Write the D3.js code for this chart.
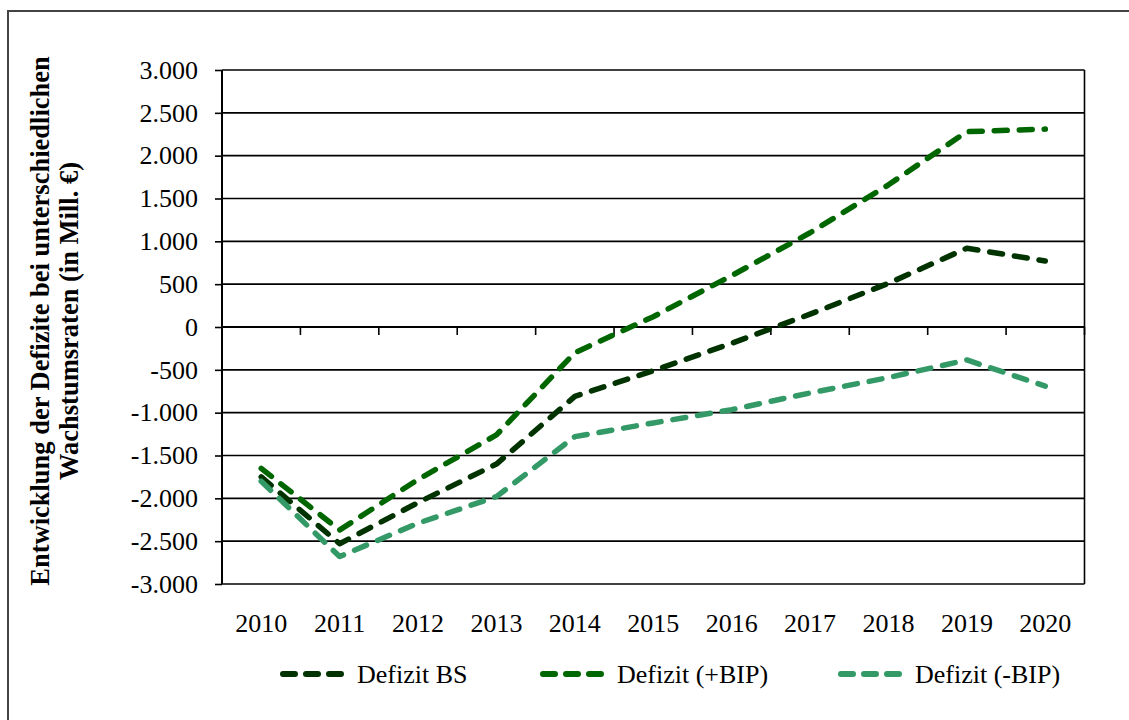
<!DOCTYPE html>
<html>
<head>
<meta charset="utf-8">
<script src="https://cdn.jsdelivr.net/npm/d3@7"></script>
<style>
  body { margin: 0; background: #fff; }
  text { font-family: "Liberation Serif", "Times New Roman", serif; }
</style>
</head>
<body>
<div id="my_dataviz"></div>
<script>
// data
const years = ["2010", "2011", "2012", "2013", "2014", "2015", "2016", "2017", "2018", "2019", "2020"];
const defizitBS = [-1750, -2530, -2050, -1600, -810, -510, -190, 150, 510, 920, 770];
const defizitPlusBIP = [-1650, -2370, -1780, -1260, -300, 120, 600, 1100, 1660, 2280, 2310];
const defizitMinusBIP = [-1800, -2680, -2290, -1980, -1280, -1120, -965, -770, -590, -385, -690];
const seriesNames = ["Defizit BS", "Defizit (+BIP)", "Defizit (-BIP)"];
const yTicks = [-3000, -2500, -2000, -1500, -1000, -500, 0, 500, 1000, 1500, 2000, 2500, 3000];
const yTitle = ["Entwicklung der Defizite bei unterschiedlichen", "Wachstumsraten (in Mill. €)"];

const colors = ["#003300", "#006600", "#339966"];
const series = [defizitBS, defizitPlusBIP, defizitMinusBIP];

// plot area
const W = 1129, H = 720;
const plotL = 222, plotR = 1084.5, plotT = 70, plotB = 584;

const de = d3.formatLocale({ decimal: ",", thousands: ".", grouping: [3], currency: ["", " €"], minus: "-" });
const fmt = de.format(",");

const svg = d3.select("#my_dataviz")
    .append("svg")
    .attr("width", W)
    .attr("height", H);

// outer frame (runs off the right and bottom edge)
svg.append("rect")
    .attr("x", 8).attr("y", 11)
    .attr("width", 1200).attr("height", 800)
    .attr("fill", "none")
    .attr("stroke", "#444")
    .attr("stroke-width", 2);

const x = d3.scaleBand()
    .domain(years)
    .range([plotL, plotR]);

const y = d3.scaleLinear()
    .domain([-3000, 3000])
    .range([plotB, plotT]);

// gridlines
svg.append("g")
    .selectAll("line")
    .data(yTicks)
    .join("line")
    .attr("x1", plotL).attr("x2", plotR)
    .attr("y1", d => y(d)).attr("y2", d => y(d))
    .attr("stroke", "#000")
    .attr("stroke-width", 1.6);

// right border of plot area
svg.append("line")
    .attr("x1", plotR).attr("x2", plotR)
    .attr("y1", plotT).attr("y2", plotB)
    .attr("stroke", "#000").attr("stroke-width", 1.6);

// y axis
const yAxis = svg.append("g")
    .attr("transform", `translate(${plotL},0)`)
    .call(d3.axisLeft(y).tickValues(yTicks).tickFormat(fmt).tickSize(7).tickPadding(17));
yAxis.select(".domain").attr("stroke-width", 2).attr("d", `M0,${plotT}V${plotB}`);
yAxis.selectAll(".tick line").attr("stroke-width", 1.6);
yAxis.selectAll("text")
    .attr("font-size", 26)
    .attr("fill", "#000");

// x axis line through zero, ticks at category boundaries
const bounds = years.map(d => x(d)).concat([x.range()[1]]);
const xLine = svg.append("g");
xLine.append("line")
    .attr("x1", plotL).attr("x2", plotR)
    .attr("y1", y(0)).attr("y2", y(0))
    .attr("stroke", "#000").attr("stroke-width", 2.2);
xLine.selectAll("line.tk")
    .data(bounds)
    .join("line")
    .attr("class", "tk")
    .attr("x1", d => d).attr("x2", d => d)
    .attr("y1", y(0)).attr("y2", y(0) + 8)
    .attr("stroke", "#000").attr("stroke-width", 1.6);

// category labels at the bottom
const xAxis = svg.append("g")
    .attr("transform", `translate(0,${plotB})`)
    .call(d3.axisBottom(x).tickSize(0).tickPadding(30));
xAxis.select(".domain").remove();
xAxis.selectAll("text")
    .attr("font-size", 26)
    .attr("fill", "#000");

// lines
const line = d3.line()
    .x((d, i) => x(years[i]) + x.bandwidth() / 2)
    .y(d => y(d));

svg.append("g")
    .selectAll("path")
    .data(series)
    .join("path")
    .attr("d", line)
    .attr("fill", "none")
    .attr("stroke", (d, i) => colors[i])
    .attr("stroke-width", 5.5)
    .attr("stroke-dasharray", "13,12")
    .attr("stroke-linecap", "round")
    .attr("stroke-linejoin", "round");

// y title
const yt = svg.append("g")
    .attr("transform", `translate(0,321) rotate(-90)`);
yt.selectAll("text")
    .data(yTitle)
    .join("text")
    .attr("x", 0)
    .attr("y", (d, i) => 49 + i * 29)
    .attr("text-anchor", "middle")
    .attr("font-weight", "bold")
    .attr("font-size", 26.5)
    .text(d => d);

// legend
const legX = [280, 540, 838];
const legend = svg.append("g")
    .selectAll("g")
    .data(seriesNames)
    .join("g")
    .attr("transform", (d, i) => `translate(${legX[i]},674)`);
legend.append("line")
    .attr("x1", 3).attr("x2", 61)
    .attr("y1", 0).attr("y2", 0)
    .attr("stroke", (d, i) => colors[i])
    .attr("stroke-width", 6)
    .attr("stroke-dasharray", "12,11")
    .attr("stroke-linecap", "round");
legend.append("text")
    .attr("x", 77)
    .attr("y", 9)
    .attr("font-size", 26)
    .text(d => d);
</script>
</body>
</html>
